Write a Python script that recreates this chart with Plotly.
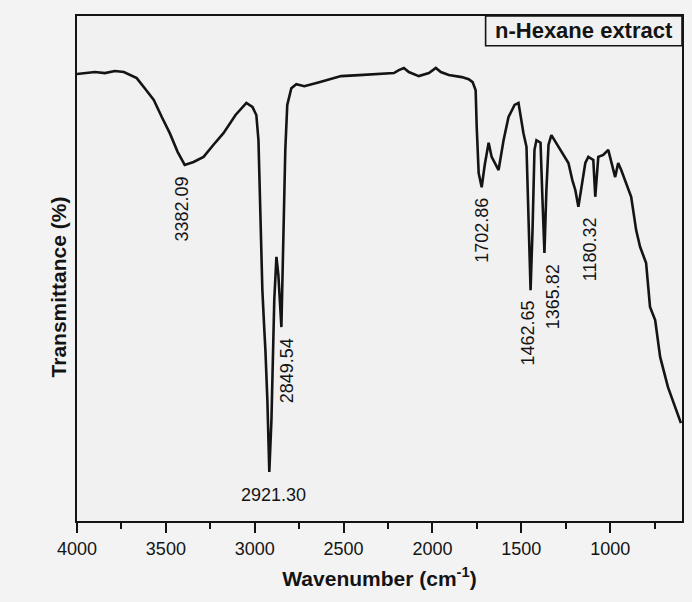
import plotly.graph_objects as go

# ---- data ----
wavenumber = [4000, 3955, 3899, 3843, 3787, 3736, 3703, 3664, 3619, 3568, 3523, 3478, 3434, 3394,
              3344, 3288, 3232, 3176, 3108, 3047, 3013, 2991, 2979, 2968, 2957, 2946, 2940, 2929,
              2918, 2906, 2890, 2878, 2867, 2850, 2839, 2828, 2817, 2794, 2766, 2721, 2637, 2514,
              2413, 2284, 2217, 2189, 2161, 2133, 2077, 2020, 1981, 1953, 1908, 1835, 1796, 1774,
              1757, 1751, 1740, 1723, 1706, 1684, 1667, 1628, 1600, 1572, 1538, 1516, 1488, 1471,
              1460, 1448, 1437, 1426, 1415, 1392, 1381, 1370, 1359, 1347, 1331, 1291, 1263, 1235,
              1213, 1196, 1179, 1168, 1151, 1140, 1123, 1095, 1084, 1067, 1039, 1011, 972, 955,
              938, 910, 882, 854, 832, 798, 776, 747, 719, 675, 635, 602]
transmittance = [88.5, 88.7, 88.9, 88.7, 89.1, 88.9, 88.3, 87.7, 85.7, 83.4, 80.0, 76.8, 73.1, 70.5,
                 71.1, 72.1, 74.5, 76.8, 80.4, 82.8, 82.0, 80.4, 75.4, 59.6, 45.7, 37.8, 33.9, 24.0,
                 9.7, 20.0, 43.8, 52.3, 48.7, 38.4, 53.7, 73.5, 82.4, 85.7, 86.5, 86.1, 86.9, 88.1,
                 88.3, 88.5, 88.7, 89.3, 89.7, 88.9, 88.1, 88.7, 89.7, 88.9, 88.3, 87.9, 87.5, 86.9,
                 85.3, 78.0, 68.9, 66.1, 70.5, 74.9, 72.1, 69.5, 75.4, 80.0, 82.4, 82.8, 76.8, 74.1,
                 59.6, 45.7, 57.6, 73.5, 75.4, 74.9, 63.6, 53.1, 65.5, 74.5, 76.4, 74.1, 72.5, 70.9,
                 67.5, 65.5, 62.2, 64.6, 68.5, 70.9, 72.1, 71.5, 64.2, 72.1, 72.5, 73.5, 68.1, 70.9,
                 69.5, 66.9, 64.2, 57.6, 54.3, 51.1, 42.4, 39.8, 32.5, 26.5, 22.6, 19.4]

peak_labels = ["3382.09", "2921.30", "2849.54", "1702.86", "1462.65", "1365.82", "1180.32"]
x_tick_values = [4000, 3500, 3000, 2500, 2000, 1500, 1000]
x_tick_labels = ["4000", "3500", "3000", "2500", "2000", "1500", "1000"]
sample_name = "n-Hexane extract"
x_title = "Wavenumber (cm<sup>-1</sup>)"
y_title = "Transmittance (%)"

# ---- label placement (x in cm-1, y in plot units, rotation) ----
label_pos = [(3411, 61.8, -90), (2895, 5.1, 0), (2817, 29.7, -90), (1718, 57.6, -90),
             (1460, 37.2, -90), (1325, 44.4, -90), (1117, 53.9, -90)]

FONT = "Liberation Sans, Arial, sans-serif"
INK = "#141414"

fig = go.Figure()
fig.add_trace(go.Scatter(x=wavenumber, y=transmittance, mode="lines",
                         line=dict(color=INK, width=2.6), hoverinfo="skip",
                         showlegend=False))

for txt, (px, py, ang) in zip(peak_labels, label_pos):
    fig.add_annotation(x=px, y=py, xref="x", yref="y", text=txt, showarrow=False,
                       textangle=ang, xanchor="center", yanchor="middle",
                       font=dict(family=FONT, size=18, color=INK))

# sample name box
fig.add_shape(type="rect", xref="x", yref="y", x0=1701, x1=596, y0=94.1, y1=100,
              line=dict(color=INK, width=1.6), fillcolor="rgba(0,0,0,0)")
fig.add_annotation(x=1148, y=97.1, xref="x", yref="y", text="<b>" + sample_name + "</b>",
                   showarrow=False, xanchor="center", yanchor="middle",
                   font=dict(family=FONT, size=22, color=INK))

# y axis title (placed a little below the plot's middle, as in the reference)
fig.add_annotation(x=-0.031, y=0.463, xref="paper", yref="paper", text="<b>" + y_title + "</b>",
                   showarrow=False, textangle=-90, xanchor="center", yanchor="middle",
                   font=dict(family=FONT, size=21, color=INK))

fig.update_layout(
    width=692, height=602,
    margin=dict(l=77, r=8, t=16, b=81),
    paper_bgcolor="#f3f3f3", plot_bgcolor="#f1f1f1",
    font=dict(family=FONT, color=INK),
    xaxis=dict(range=[4000, 596], tickmode="array", tickvals=x_tick_values,
               ticktext=x_tick_labels, ticks="outside", ticklen=10, tickwidth=1.8,
               tickcolor=INK, showline=True, linecolor=INK, linewidth=2,
               mirror=True, showgrid=False, zeroline=False,
               tickfont=dict(family=FONT, size=18, color=INK),
               minor=dict(tickvals=[3750, 3250, 2750, 2250, 1750, 1250, 750], ticks="outside",
                          ticklen=6, tickwidth=1.5, tickcolor=INK, showgrid=False),
               title=dict(text="<b>" + x_title + "</b>", standoff=14,
                          font=dict(family=FONT, size=21, color=INK))),
    yaxis=dict(range=[0, 100], showticklabels=False, ticks="", showline=True,
               linecolor=INK, linewidth=2, mirror=True, showgrid=False, zeroline=False),
)

fig.write_html("out.html")
